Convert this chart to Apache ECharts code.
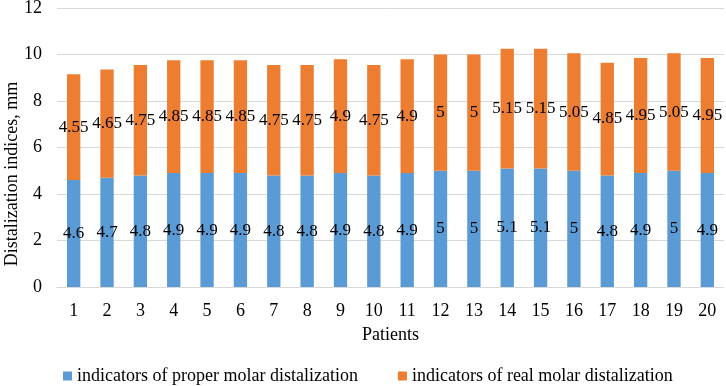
<!DOCTYPE html>
<html>
<head>
<meta charset="utf-8">
<script src="https://cdn.jsdelivr.net/npm/echarts@6/dist/echarts.min.js"></script>
<style>
html, body { margin: 0; padding: 0; background: #fff; }
#chart1 { width: 726px; height: 386px; }
</style>
</head>
<body>
<div id="chart1"></div>
<script>
const patients = ['1', '2', '3', '4', '5', '6', '7', '8', '9', '10',
    '11', '12', '13', '14', '15', '16', '17', '18', '19', '20'];
const properMolar = [4.6, 4.7, 4.8, 4.9, 4.9, 4.9, 4.8, 4.8, 4.9, 4.8,
    4.9, 5, 5, 5.1, 5.1, 5, 4.8, 4.9, 5, 4.9];
const realMolar = [4.55, 4.65, 4.75, 4.85, 4.85, 4.85, 4.75, 4.75, 4.9, 4.75,
    4.9, 5, 5, 5.15, 5.15, 5.05, 4.85, 4.95, 5.05, 4.95];
const yTicks = [0, 2, 4, 6, 8, 10, 12];

const font = 'Liberation Serif';
const chart = echarts.init(document.getElementById('chart1'));

const label = {
    show: true,
    position: 'inside',
    color: '#000',
    fontFamily: font,
    fontSize: 17,
    textBorderWidth: 0
};

const option = {
    animation: false,
    grid: { left: 57, right: 2, top: 8, bottom: 99, outerBoundsMode: 'none', containLabel: false },
    // y axis title sits a bit below the plot centre, like the original
    graphic: [{
        type: 'text',
        x: 12,
        y: 174,
        rotation: Math.PI / 2,
        style: {
            text: 'Distalization indices, mm',
            fontFamily: font,
            fontSize: 18,
            fill: '#000',
            align: 'center',
            verticalAlign: 'middle'
        }
    }],
    legend: {
        top: 362,
        left: 58,
        itemWidth: 9,
        itemHeight: 9,
        itemGap: 40,
        icon: 'rect',
        textStyle: { fontFamily: font, fontSize: 18, color: '#000' }
    },
    xAxis: {
        type: 'category',
        data: patients,
        name: 'Patients',
        nameLocation: 'middle',
        nameGap: 39,
        nameTextStyle: { fontFamily: font, fontSize: 18, color: '#000' },
        axisLine: { lineStyle: { color: '#d9d9d9' } },
        axisTick: { show: false },
        axisLabel: { fontFamily: font, fontSize: 18, color: '#000', margin: 15 }
    },
    yAxis: {
        type: 'value',
        min: yTicks[0],
        max: yTicks[yTicks.length - 1],
        interval: 2,
        axisLine: { show: false },
        axisTick: { show: false },
        axisLabel: { fontFamily: font, fontSize: 18, color: '#000', margin: 15 },
        splitLine: { lineStyle: { color: '#d9d9d9' } }
    },
    series: [
        {
            name: 'indicators of proper molar distalization',
            type: 'bar',
            stack: 'total',
            barWidth: '40%',
            itemStyle: { color: '#5b9bd5' },
            label: label,
            data: properMolar
        },
        {
            name: 'indicators of real molar distalization',
            type: 'bar',
            stack: 'total',
            barWidth: '40%',
            itemStyle: { color: '#ed7d31' },
            label: label,
            data: realMolar
        }
    ]
};

chart.setOption(option);
window.addEventListener('resize', function () { chart.resize(); });
</script>
</body>
</html>
